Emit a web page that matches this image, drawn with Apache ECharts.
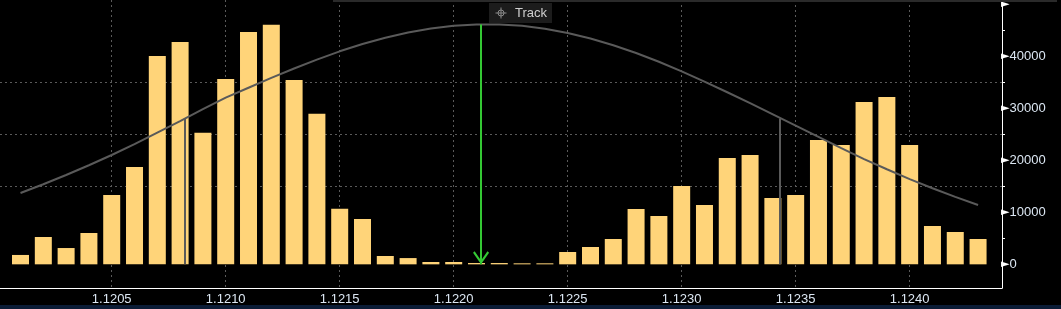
<!DOCTYPE html>
<html><head><meta charset="utf-8">
<script src="https://cdn.jsdelivr.net/npm/echarts@6/dist/echarts.min.js"></script>
<style>html,body{margin:0;padding:0;background:#000;}#c{width:1061px;height:309px;}</style>
</head><body><div id="c"></div>
<script>
// price bins (x) and traded volume per bin
const prices = [1.1201,1.1202,1.1203,1.1204,1.1205,1.1206,1.1207,1.1208,1.1209,1.1210,
  1.1211,1.1212,1.1213,1.1214,1.1215,1.1216,1.1217,1.1218,1.1219,1.1220,
  1.1221,1.1222,1.1223,1.1224,1.1225,1.1226,1.1227,1.1228,1.1229,1.1230,
  1.1231,1.1232,1.1233,1.1234,1.1235,1.1236,1.1237,1.1238,1.1239,1.1240,
  1.1241,1.1242,1.1243];
const volumes = [1800,5250,3130,6020,13330,18700,40000,42700,25250,35600,
  44600,46000,35400,28900,10650,8700,1600,1200,450,450,
  250,250,150,150,2370,3330,4860,10620,9280,15040,
  11400,20420,21000,12740,13310,23870,22910,31170,32130,22910,
  7360,6210,4860];
// distribution curve read at each bin
const curve = [13690,15370,17150,19030,20990,23100,25300,27500,29800,32000,
  33900,35800,37600,39300,40900,42300,43500,44500,45270,45800,
  46070,46070,45790,45240,44430,43370,42080,40580,38900,37040,
  35090,33040,30950,28800,26650,24490,22320,20210,18260,16360,
  14610,12950,11400];
// track marker (mean) and +-1 sigma markers
const meanPrice = 1.12212;
const meanCurveValue = 46070;
const sigmaPrices = [1.12082, 1.12343];
const sigmaCurveValue = 28000;
const yMajorStep = 10000;
const yMinorTicks = [5000, 15000, 25000, 35000, 45000];
const xStep = 0.0005;

const chart = echarts.init(document.getElementById('c'), null, {renderer: 'canvas'});
const labelColor = '#dce7f3';
const font = 'Liberation Sans, Arial, sans-serif';
const chevron = 'path://M8,0 L16,11 L14.4,12.4 L8,3.6 L1.6,12.4 L0,11 Z';

chart.setOption({
  backgroundColor: '#000000',
  animation: false,
  grid: {left: 0, right: 59, top: 0, bottom: 21, containLabel: false, outerBoundsMode: 'none'},
  xAxis: {
    type: 'value', min: 1.12001, max: 1.124405,
    minInterval: xStep, maxInterval: xStep,
    axisLine: {show: true, onZero: false, lineStyle: {color: '#ffffff', width: 1}},
    axisTick: {show: false},
    axisLabel: {color: labelColor, fontFamily: font, fontSize: 13, margin: 5,
      showMinLabel: false, showMaxLabel: false,
      formatter: v => v.toFixed(4)},
    splitLine: {show: true, showMinLine: false, showMaxLine: false,
      lineStyle: {color: '#5a5a5a', type: [2, 3], width: 1}}
  },
  yAxis: {
    type: 'value', position: 'right', min: -4545, max: 50755,
    minInterval: yMajorStep, maxInterval: yMajorStep,
    axisLine: {show: true, onZero: false, lineStyle: {color: '#ffffff', width: 1}},
    axisTick: {show: true, customValues: yMinorTicks, length: 3, inside: false,
      lineStyle: {color: '#ffffff', width: 1}},
    axisLabel: {show: true, margin: 0, showMinLabel: false, showMaxLabel: false,
      formatter: v => (v >= 50000 ? '{t|►}' : '{t|►}{v|' + v + '}'),
      rich: {
        t: {color: '#ffffff', fontSize: 11, fontFamily: 'DejaVu Sans', padding: [0, 0, 0, -1]},
        v: {color: labelColor, fontSize: 13, fontFamily: font}
      }},
    splitLine: {show: true, showMinLine: false, showMaxLine: false,
      lineStyle: {color: '#5a5a5a', type: [2, 3], width: 1}}
  },
  series: [
    {
      type: 'bar', barWidth: 17, barMinHeight: 1,
      data: prices.map((p, i) => [p, volumes[i]]),
      itemStyle: {color: '#ffd479'},
      z: 2,
      markLine: {
        silent: true, animation: false, label: {show: false},
        lineStyle: {color: '#34c934', width: 2, type: 'solid'},
        emphasis: {disabled: true},
        data: [[
          {coord: [meanPrice, meanCurveValue], symbol: 'none'},
          {coord: [meanPrice, 0], symbol: chevron, symbolSize: [16, 13], symbolOffset: [0, 6.5]}
        ]]
      }
    },
    {
      type: 'line', symbol: 'none', smooth: false,
      data: prices.map((p, i) => [p, curve[i]]),
      lineStyle: {color: '#5a5a5a', width: 2},
      z: 3,
      markLine: {
        silent: true, animation: false, label: {show: false}, symbol: 'none',
        lineStyle: {color: '#5a5a5a', width: 2, type: 'solid'},
        emphasis: {disabled: true},
        data: sigmaPrices.map(p => [{coord: [p, sigmaCurveValue]}, {coord: [p, 0]}])
      }
    }
  ],
  graphic: [
    {type: 'rect', shape: {x: 333, y: 0, width: 724, height: 2}, style: {fill: '#2a2a2a'}, z: 10, silent: true},
    {type: 'rect', shape: {x: 0, y: 305, width: 1061, height: 4}, style: {fill: '#0b1c36'}, z: 10, silent: true},
    {type: 'group', z: 20, children: [
      {type: 'rect', shape: {x: 489, y: 3, width: 63, height: 20}, style: {fill: '#1c1c1c'}},
      {type: 'circle', shape: {cx: 501, cy: 13, r: 3}, style: {fill: 'none', stroke: '#8a8a8a', lineWidth: 1}},
      {type: 'line', shape: {x1: 495.5, y1: 13, x2: 506.5, y2: 13}, style: {stroke: '#8a8a8a', lineWidth: 1}},
      {type: 'line', shape: {x1: 501, y1: 7.5, x2: 501, y2: 18.5}, style: {stroke: '#8a8a8a', lineWidth: 1}},
      {type: 'text', style: {x: 515, y: 13, text: 'Track', fill: '#cfcfcf', font: '13px Liberation Sans, Arial, sans-serif', textVerticalAlign: 'middle', verticalAlign: 'middle'}}
    ]}
  ]
});
</script>
</body></html>
